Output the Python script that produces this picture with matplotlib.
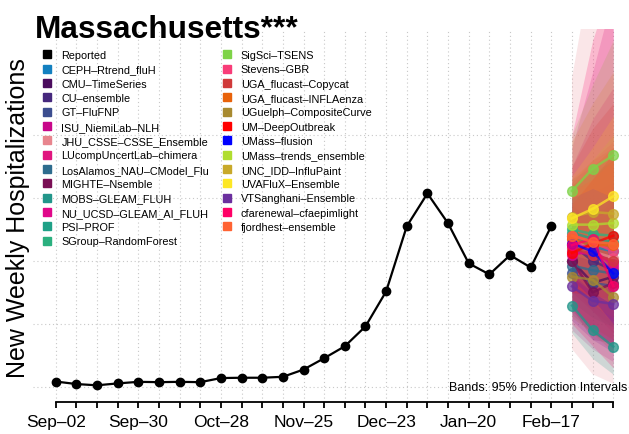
import numpy as np
import matplotlib.pyplot as plt
from matplotlib.lines import Line2D

plt.rcParams['font.family'] = ['Liberation Sans', 'DejaVu Sans']

# weekly dates, Sep-02 to Mar-09
week_labels = ['Sep\u201302', 'Sep\u201330', 'Oct\u201328', 'Nov\u201325', 'Dec\u201323', 'Jan\u201320', 'Feb\u201317']
n_weeks = 28

reported = [17, 9, 5, 11, 16, 15, 16, 15, 28, 29, 29, 32, 55, 91, 129, 192,
            303, 510, 614, 519, 392, 357, 418, 379, 511]

models = ['CEPH-Rtrend_fluH', 'CMU-TimeSeries', 'CU-ensemble', 'GT-FluFNP',
          'ISU_NiemiLab-NLH', 'JHU_CSSE-CSSE_Ensemble', 'LUcompUncertLab-chimera',
          'LosAlamos_NAU-CModel_Flu', 'MIGHTE-Nsemble', 'MOBS-GLEAM_FLUH',
          'NU_UCSD-GLEAM_AI_FLUH', 'PSI-PROF', 'SGroup-RandomForest',
          'SigSci-TSENS', 'Stevens-GBR', 'UGA_flucast-Copycat',
          'UGA_flucast-INFLAenza', 'UGuelph-CompositeCurve', 'UM-DeepOutbreak',
          'UMass-flusion', 'UMass-trends_ensemble', 'UNC_IDD-InfluPaint',
          'UVAFluX-Ensemble', 'VTSanghani-Ensemble', 'cfarenewal-cfaepimlight',
          'fjordhest-ensemble']

colors = ['#1380C0', '#4B0C5E', '#46287D', '#3C4E8F', '#C8078A', '#E8858E',
          '#E0157F', '#2E6C8E', '#7A0F55', '#22968A', '#E0088A', '#1FA187',
          '#2BB07F', '#7ED348', '#F83C78', '#D03A3A', '#E8620A', '#A88A30',
          '#FF0000', '#0000FF', '#B0DD2F', '#C8A92A', '#FDE725', '#6B2F9E',
          '#FF0066', '#FF6333']

fc_median = [[480, 445, 430], [400, 330, 350], [450, 400, 370], [360, 330, 320],
             [430, 420, 400], [470, 430, 410], [455, 440, 380], [385, 370, 360],
             [400, 300, 330], [258, 180, 128], [420, 430, 390], [490, 470, 460],
             [500, 485, 480], [622, 693, 735], [480, 460, 430], [440, 420, 400],
             [470, 450, 450], [350, 340, 285], [425, 455, 480], [455, 430, 360],
             [515, 515, 520], [540, 555, 550], [535, 565, 605], [319, 273, 263],
             [450, 470, 320], [480, 460, 455]]

fc_lower = [[330, 260, 210], [260, 170, 140], [320, 240, 190], [230, 170, 130],
            [180, 120, 80], [120, 40, 10], [300, 240, 170], [270, 220, 190],
            [250, 150, 140], [170, 90, 40], [240, 180, 120], [370, 310, 260],
            [380, 320, 280], [470, 450, 430], [340, 270, 200], [250, 190, 150],
            [330, 260, 220], [220, 170, 110], [300, 290, 280], [340, 280, 200],
            [390, 330, 300], [350, 300, 260], [420, 400, 390], [210, 150, 110],
            [200, 130, 60], [360, 300, 260]]

fc_upper = [[660, 700, 760], [560, 540, 600], [600, 620, 650], [520, 540, 580],
            [760, 1000, 1250], [980, 1350, 1600], [650, 720, 760], [520, 560, 610],
            [580, 520, 600], [370, 330, 300], [700, 850, 950], [640, 680, 720],
            [640, 690, 740], [800, 960, 1100], [660, 720, 780], [700, 820, 900],
            [640, 700, 760], [520, 560, 560], [580, 660, 740], [600, 630, 600],
            [660, 720, 800], [780, 900, 1000], [670, 760, 860], [450, 430, 460],
            [800, 1100, 1300], [620, 660, 720]]

W, H = 629, 435
fig = plt.figure(figsize=(W / 100, H / 100), dpi=100)
ax = fig.add_axes([33 / W, (H - 403) / H, (W - 33) / W, 373 / H])

x_rep = np.arange(len(reported))
x_fc = np.arange(len(reported), len(reported) + 3)

# grid
for i in range(n_weeks):
    ax.axvline(i, color='#c8c8c8', linestyle=(0, (1, 2.5)), linewidth=0.8, zorder=0)
for v in [0, 200, 400, 600, 800]:
    ax.axhline(v, color='#c8c8c8', linestyle=(0, (1, 2.5)), linewidth=0.8, zorder=0)

# prediction bands
for k in range(len(models)):
    ax.fill_between(x_fc, fc_lower[k], fc_upper[k], color=colors[k], alpha=0.2,
                    linewidth=0, zorder=1)

ax.plot(x_rep, reported, color='black', linewidth=1.6, marker='o', markersize=6, zorder=3)

for k in range(len(models)):
    ax.plot(x_fc, fc_median[k], color=colors[k], linewidth=1.8, marker='o',
            markersize=7, alpha=0.75, zorder=2)

ax.set_xlim(-1.1, 27.76)
ax.set_ylim(-48, 1136)

for s in ['top', 'right', 'left']:
    ax.spines[s].set_visible(False)
ax.spines['bottom'].set_bounds(0, n_weeks - 1)
ax.spines['bottom'].set_linewidth(1.3)
ax.set_yticks([])
ax.set_xticks(np.arange(n_weeks))
tick_text = ['' for i in range(n_weeks)]
for j, lab in enumerate(week_labels):
    tick_text[j * 4] = lab
ax.set_xticklabels(tick_text, fontsize=12.5)
ax.tick_params(axis='x', length=4, width=1.3, pad=5)

handles = [Line2D([], [], marker='s', linestyle='', color='black', markersize=6.2)]
labels = ['Reported']
for k in range(len(models)):
    handles.append(Line2D([], [], marker='s', linestyle='', color=colors[k], markersize=6.2))
    labels.append(models[k].replace('-', '\u2013'))
ax.legend(handles, labels, ncol=2, loc='upper left', bbox_to_anchor=(42 / W, 1 - 51 / H),
          bbox_transform=fig.transFigure, frameon=False, fontsize=7.8,
          handlelength=1.0, handletextpad=0.8, columnspacing=1.1, labelspacing=0.4,
          borderpad=0, borderaxespad=0)

ax.text(27.7, 0, 'Bands: 95% Prediction Intervals', fontsize=9, ha='right', va='center')

fig.text(35 / W, 1 - 38 / H, 'Massachusetts***', fontsize=22.8, fontweight='bold',
         ha='left', va='baseline')
fig.text(18 / W, 1 - 218 / H, 'New Weekly Hospitalizations', fontsize=18,
         rotation=90, ha='center', va='center')

fig.savefig('out.png', dpi=100)
